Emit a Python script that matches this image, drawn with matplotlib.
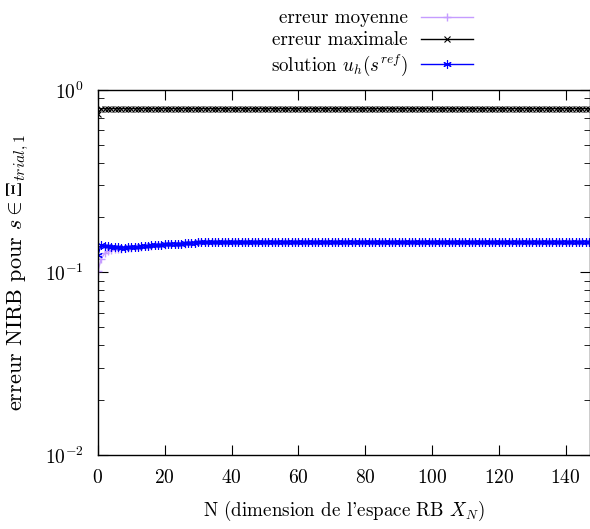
import numpy as np
import matplotlib
matplotlib.use("Agg")
import matplotlib.pyplot as plt
from matplotlib.ticker import LogLocator, NullFormatter

plt.rcParams['font.family'] = ['cmr10', 'DejaVu Serif']
plt.rcParams['mathtext.fontset'] = 'cm'
plt.rcParams['axes.formatter.use_mathtext'] = True
plt.rcParams['font.size'] = 13.7

# N = 0 .. 147
N = np.arange(0, 148)

# erreur moyenne
err_moy = [0.102, 0.119, 0.127, 0.131, 0.133, 0.134, 0.135, 0.135, 0.136, 0.136,
           0.136, 0.137, 0.138, 0.138, 0.139, 0.140, 0.140, 0.141, 0.141, 0.142,
           0.142, 0.143, 0.143, 0.143, 0.144, 0.144, 0.144, 0.145, 0.145, 0.145] \
          + [0.146] * 20 + [0.147] * 98

# erreur maximale
err_max = [0.74] + [0.79] * 147

# solution u_h(s^ref)
sol_ref = [0.125, 0.142, 0.140, 0.139, 0.138, 0.137, 0.137, 0.136, 0.136, 0.137,
           0.137, 0.138, 0.138, 0.139, 0.140, 0.140, 0.141, 0.141, 0.142, 0.142,
           0.143, 0.143, 0.143, 0.144, 0.144, 0.144, 0.145, 0.145, 0.145, 0.145] \
          + [0.146] * 20 + [0.147] * 98

fig = plt.figure(figsize=(5.9, 5.29), dpi=100)
ax = fig.add_axes([0.166, 0.14, 0.834, 0.69])

ast = (6, 2, 0)
ax.plot(N, err_moy, color='#c59cff', lw=1, marker='+', ms=6, mew=1,
        label='erreur moyenne')
ax.plot(N, err_max, color='black', lw=1, marker='x', ms=5, mew=0.8,
        label='erreur maximale')
ax.plot(N, sol_ref, color='#0000ff', lw=1, marker=ast, ms=6, mew=0.8,
        label=r'solution $u_h(s^{ref})$')

ax.set_yscale('log')
ax.set_ylim(1e-2, 1)
ax.set_xlim(0, 147.3)
ax.set_xticks(np.arange(0, 141, 20))
ax.yaxis.set_major_locator(LogLocator(base=10, numticks=5))
ax.yaxis.set_minor_locator(LogLocator(base=10, subs=np.arange(2, 10), numticks=20))
ax.yaxis.set_minor_formatter(NullFormatter())
ax.tick_params(which='both', direction='in', top=True, right=True)
ax.tick_params(which='major', length=7, pad=10, labelsize=14)
ax.tick_params(which='minor', length=4)
for s in ax.spines.values():
    s.set_linewidth(1)

ax.set_xlabel("N (dimension de l'espace RB $X_N$)", labelpad=9)
ax.set_ylabel(r"erreur NIRB pour $s\in\Xi_{trial,1}$", labelpad=10, fontsize=16)

fig.legend(loc='upper right', bbox_to_anchor=(0.817, 1.0), frameon=False,
           markerfirst=False, handlelength=2.7, labelspacing=0.2,
           handletextpad=0.7, borderpad=0, fontsize=13.7)

plt.savefig("out.png", dpi=100)
